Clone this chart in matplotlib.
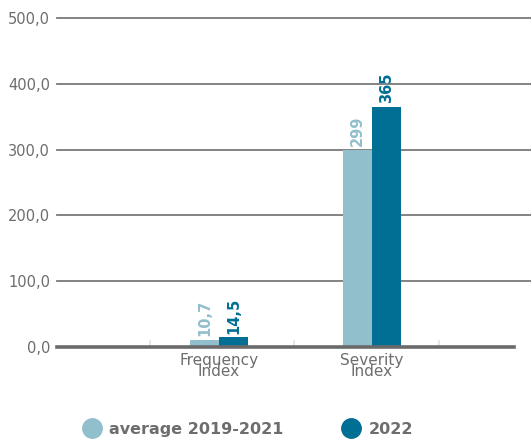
import numpy as np
import matplotlib.pyplot as plt
from matplotlib.lines import Line2D

categories = ['Frequency\nIndex', 'Severity\nIndex']
avg_2019_2021 = [10.7, 299]
year_2022 = [14.5, 365]
avg_labels = ['10,7', '299']
y2022_labels = ['14,5', '365']
series_names = ['average 2019-2021', '2022']

LIGHT = '#92bfcc'
DARK = '#006f93'
GREY = '#6d6d6d'


def fmt_tick(v):
    return f'{v:.1f}'.replace('.', ',')


def run():
    fig = plt.figure(figsize=(5.31, 4.45), dpi=100)
    ax = fig.add_axes([0.1073, 0.2202, 0.8927, 0.7394])

    x = np.arange(1, len(categories) + 1)
    width = 0.19
    ax.bar(x - width / 2, avg_2019_2021, width, color=LIGHT, zorder=3)
    ax.bar(x + width / 2, year_2022, width, color=DARK, zorder=3)

    for xi, v, lab in zip(x, avg_2019_2021, avg_labels):
        ax.text(xi - width / 2, v + 6, lab, rotation=90, ha='center', va='bottom',
                color=LIGHT, fontsize=10.5, fontweight='bold')
    for xi, v, lab in zip(x, year_2022, y2022_labels):
        ax.text(xi + width / 2, v + 6, lab, rotation=90, ha='center', va='bottom',
                color=DARK, fontsize=10.5, fontweight='bold')

    ax.set_xlim(-0.06, 3.04)
    ax.set_ylim(0, 500)
    yt = np.arange(0, 501, 100)
    ax.set_yticks(yt)
    ax.set_yticklabels([fmt_tick(v) for v in yt], color=GREY, fontsize=10.5)
    ax.tick_params(axis='y', length=0, pad=5)
    for v in yt[1:]:
        ax.axhline(v, color='#7a7a7a', lw=1.3, zorder=1, clip_on=False)
    ax.plot([-0.06, 2.93], [0, 0], color='#6a6a6a', lw=2.6, zorder=4, clip_on=False)

    ax.set_xticks(x)
    ax.set_xticklabels(categories, color=GREY, fontsize=11, linespacing=0.72)
    ax.tick_params(axis='x', length=0, pad=4)
    for b in [0.55, 1.49, 2.44]:
        ax.plot([b, b], [0, 9], color='#e2e2e2', lw=1.2, zorder=2)

    for s in ax.spines.values():
        s.set_visible(False)

    handles = [Line2D([], [], ls='', marker='o', markersize=14, color=LIGHT),
               Line2D([], [], ls='', marker='o', markersize=14, color=DARK)]
    leg = fig.legend(handles, series_names, loc='center', bbox_to_anchor=(0.46, 0.035),
                     ncol=2, frameon=False, handletextpad=0.1, columnspacing=3.2,
                     prop={'size': 11.5, 'weight': 'bold'})
    for t in leg.get_texts():
        t.set_color(GREY)

    fig.savefig('out.png', dpi=100)


if __name__ == '__main__':
    run()
